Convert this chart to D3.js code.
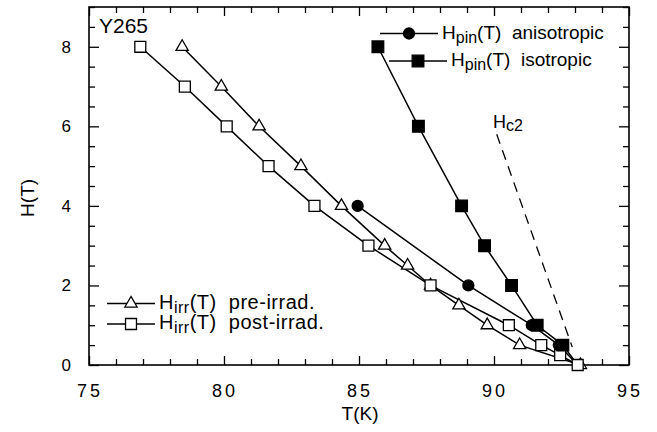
<!DOCTYPE html>
<html>
<head>
<meta charset="utf-8">
<script src="https://cdn.jsdelivr.net/npm/d3@7"></script>
<style>
  body { margin: 0; background: #fff; }
  text { font-family: "Liberation Sans", Arial, sans-serif; fill: #000; white-space: pre; }
</style>
</head>
<body>
<div id="chart"></div>
<script>
// data: T in K, H in tesla
var preT = [78.45, 79.9, 81.3, 82.85, 84.35, 85.95, 86.8, 87.65, 88.7, 89.75, 90.95, 93.2];
var preH = [8, 7, 6, 5, 4, 3, 2.5, 2, 1.5, 1, 0.5, 0];

var postT = [76.9, 78.55, 80.1, 81.65, 83.35, 85.35, 87.65, 90.55, 91.75, 92.45, 93.1];
var postH = [8, 7, 6, 5, 4, 3, 2, 1, 0.5, 0.25, 0];

var anisoT = [84.95, 89.05, 91.4, 92.4, 93.1];
var anisoH = [4, 2, 1, 0.5, 0];

var isoT = [85.7, 87.2, 88.8, 89.65, 90.65, 91.6, 92.55, 93.1];
var isoH = [8, 6, 4, 3, 2, 1, 0.5, 0];

var hc2T = [90.1, 92.9];
var hc2H = [5.8, 0.45];

var xTicks = [75, 80, 85, 90, 95];
var yTicks = [0, 2, 4, 6, 8];

var svgWidth = 657, svgHeight = 432;
var margin = {top: 7, right: 28, bottom: 67, left: 89};
var width = svgWidth - margin.left - margin.right;
var height = svgHeight - margin.top - margin.bottom;

var svg = d3.select("#chart").append("svg")
  .attr("width", svgWidth)
  .attr("height", svgHeight);

var g = svg.append("g")
  .attr("transform", `translate(${margin.left}, ${margin.top})`);

var x = d3.scaleLinear().domain([75, 95]).range([0, width]);
var y = d3.scaleLinear().domain([0, 9]).range([height, 0]);

// ticks inside the frame on all four sides
var xMinor = d3.range(75, 95.01, 1);
var yMinor = d3.range(0, 9.01, 0.5);
function isMajorX(v) { return v % 5 === 0; }
function isMajorY(v) { return v % 2 === 0; }

g.append("g").attr("transform", `translate(0, ${height})`)
  .call(d3.axisBottom(x).tickValues(xMinor).tickSizeInner(-6).tickSizeOuter(0).tickFormat(""))
  .call(a => a.selectAll(".tick line").attr("y2", d => isMajorX(d) ? -9 : -6));
g.append("g")
  .call(d3.axisTop(x).tickValues(xMinor).tickSizeInner(-6).tickSizeOuter(0).tickFormat(""))
  .call(a => a.selectAll(".tick line").attr("y2", d => isMajorX(d) ? 9 : 6));
g.append("g")
  .call(d3.axisLeft(y).tickValues(yMinor).tickSizeInner(-6).tickSizeOuter(0).tickFormat(""))
  .call(a => a.selectAll(".tick line").attr("x2", d => isMajorY(d) ? 10 : 6));
g.append("g").attr("transform", `translate(${width}, 0)`)
  .call(d3.axisRight(y).tickValues(yMinor).tickSizeInner(-6).tickSizeOuter(0).tickFormat(""))
  .call(a => a.selectAll(".tick line").attr("x2", d => isMajorY(d) ? -10 : -6));
g.selectAll(".domain").remove();
g.selectAll(".tick line").attr("stroke", "#000").attr("stroke-width", 1.3);

g.append("rect")
  .attr("width", width).attr("height", height)
  .attr("fill", "none").attr("stroke", "#000").attr("stroke-width", 1.6);

// tick labels
g.selectAll(".xlab").data(xTicks).enter().append("text")
  .attr("x", d => x(d) + 1).attr("y", height + 32)
  .attr("text-anchor", "middle")
  .style("font-size", "18px").style("letter-spacing", "3px")
  .text(d => d);
g.selectAll(".ylab").data(yTicks).enter().append("text")
  .attr("x", -18).attr("y", d => y(d) + 6)
  .attr("text-anchor", "end")
  .style("font-size", "17px")
  .text(d => d);

g.append("text")
  .attr("x", x(85) + 1).attr("y", height + 55)
  .attr("text-anchor", "middle").style("font-size", "19px")
  .text("T(K)");
g.append("text")
  .attr("transform", "rotate(-90)")
  .attr("x", -(y(4.2))).attr("y", -55)
  .attr("text-anchor", "middle").style("font-size", "19px")
  .text("H(T)");

g.append("text")
  .attr("x", 10).attr("y", 26)
  .style("font-size", "21px")
  .text("Y265");

// series
var line = d3.line().x(d => x(d[0])).y(d => y(d[1]));
function pts(ts, hs) { return ts.map((t, i) => [t, hs[i]]); }

var series = [
  {data: pts(preT, preH), shape: d3.symbolTriangle, size: 65, fill: "#fff"},
  {data: pts(postT, postH), shape: d3.symbolSquare, size: 120, fill: "#fff"},
  {data: pts(anisoT, anisoH), shape: d3.symbolCircle, size: 95, fill: "#000"},
  {data: pts(isoT, isoH), shape: d3.symbolSquare, size: 135, fill: "#000"}
];

series.forEach(function(s) {
  g.append("path").datum(s.data)
    .attr("d", line).attr("fill", "none")
    .attr("stroke", "#000").attr("stroke-width", 1.5);
});
series.forEach(function(s) {
  // filled series have no marker drawn at H = 0
  var marked = s.fill === "#000" ? s.data.filter(d => d[1] > 0) : s.data;
  g.selectAll(null).data(marked).enter().append("path")
    .attr("transform", d => `translate(${x(d[0])}, ${y(d[1])})`)
    .attr("d", d3.symbol().type(s.shape).size(s.size))
    .attr("fill", s.fill).attr("stroke", "#000").attr("stroke-width", 1.3);
});

// Hc2 dashed line
g.append("path").datum(pts(hc2T, hc2H))
  .attr("d", line).attr("fill", "none")
  .attr("stroke", "#000").attr("stroke-width", 1.3)
  .attr("stroke-dasharray", "10,7");
var hc2 = g.append("text").attr("x", 404).attr("y", 121).style("font-size", "18px");
hc2.append("tspan").text("H");
hc2.append("tspan").attr("dy", 3).style("font-size", "16px").text("c2");

// legends
function legendItem(x1, x2, ly, shape, size, fill, main, sub, rest, fs, ls) {
  g.append("line").attr("x1", x1).attr("x2", x2).attr("y1", ly).attr("y2", ly)
    .attr("stroke", "#000").attr("stroke-width", 1.3);
  g.append("path")
    .attr("transform", `translate(${(x1 + x2) / 2}, ${ly})`)
    .attr("d", d3.symbol().type(shape).size(size))
    .attr("fill", fill).attr("stroke", "#000").attr("stroke-width", 1.3);
  var t = g.append("text").attr("x", x2 + 4).attr("y", ly + 5)
    .style("font-size", fs + "px").style("letter-spacing", ls + "px");
  t.append("tspan").text(main);
  t.append("tspan").attr("dy", 4).style("font-size", "16px").text(sub);
  t.append("tspan").attr("dy", -4).text(rest);
}
legendItem(291, 349, 26.5, d3.symbolCircle, 95, "#000", "H", "pin", "(T)  anisotropic", 19, 0);
legendItem(300, 358, 54, d3.symbolSquare, 135, "#000", "H", "pin", "(T)  isotropic", 19, 0);
legendItem(18, 66, 296.5, d3.symbolTriangle, 65, "#fff", "H", "irr", "(T)  pre-irrad.", 20, 0.5);
legendItem(18, 66, 317, d3.symbolSquare, 120, "#fff", "H", "irr", "(T)  post-irrad.", 20, 0.5);
</script>
</body>
</html>
